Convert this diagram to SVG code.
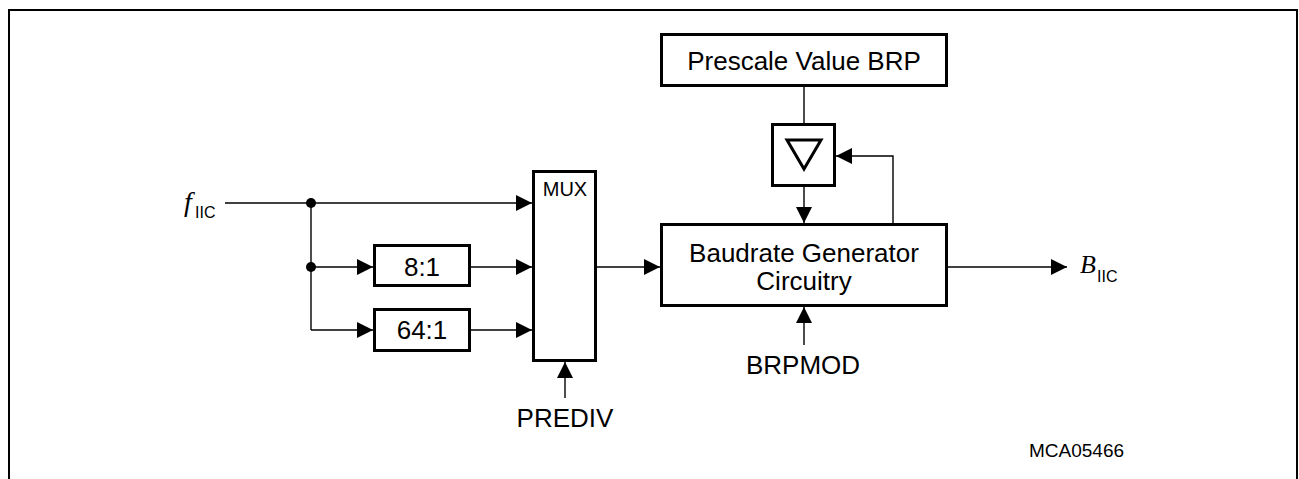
<svg xmlns="http://www.w3.org/2000/svg" width="1299" height="479" viewBox="0 0 1299 479">
<style>
.box{fill:#fff;stroke:#000;stroke-width:3}
.ln{fill:none;stroke:#000;stroke-width:1.4}
.t{font-family:"Liberation Sans",Arial,sans-serif;font-size:26px;fill:#000;text-anchor:middle}
.s{font-family:"Liberation Sans",Arial,sans-serif;fill:#000}
.it{font-family:"Liberation Serif","Times New Roman",serif;font-style:italic;fill:#000}
</style>
<defs>
<marker id="ah" viewBox="0 0 16 16" refX="16" refY="8" markerWidth="16" markerHeight="16" markerUnits="userSpaceOnUse" orient="auto">
<path d="M0,0 L16,8 L0,16 z" fill="#000"/>
</marker>
</defs>
<rect width="1299" height="479" fill="#fff"/>
<path d="M9,479 V10 H1297 V479" fill="none" stroke="#000" stroke-width="2"/>

<g id="connectors">
<path class="ln" d="M225,203 H532" marker-end="url(#ah)"/>
<path class="ln" d="M311,203 V330"/>
<path class="ln" d="M311,267 H373" marker-end="url(#ah)"/>
<path class="ln" d="M311,330 H373" marker-end="url(#ah)"/>
<path class="ln" d="M471,267 H532" marker-end="url(#ah)"/>
<path class="ln" d="M471,330 H532" marker-end="url(#ah)"/>
<circle cx="311" cy="203" r="5" fill="#000"/>
<circle cx="311" cy="267" r="5" fill="#000"/>
<path class="ln" d="M565,398 V362" marker-end="url(#ah)"/>
<path class="ln" d="M597,267 H660" marker-end="url(#ah)"/>
<path class="ln" d="M804,87 V123"/>
<path class="ln" d="M804,187 V223" marker-end="url(#ah)"/>
<path class="ln" d="M893,223 V156 H836" marker-end="url(#ah)"/>
<path class="ln" d="M804,345 V307" marker-end="url(#ah)"/>
<path class="ln" d="M948,267 H1067" marker-end="url(#ah)"/>
</g>

<g id="fiic">
<text class="it" x="184" y="211" font-size="28">f</text>
<text class="s" x="195" y="218" font-size="16">IIC</text>
</g>
<g id="div8">
<rect class="box" x="374.5" y="245.5" width="95" height="40"/>
<text class="t" x="422" y="276">8:1</text>
</g>
<g id="div64">
<rect class="box" x="374.5" y="309.5" width="95" height="41"/>
<text class="t" x="422" y="339">64:1</text>
</g>
<g id="mux">
<rect class="box" x="533.5" y="171.5" width="62" height="189"/>
<text class="s" x="565" y="196" font-size="20" text-anchor="middle">MUX</text>
</g>
<g id="prediv">
<text class="t" x="565" y="427">PREDIV</text>
</g>
<g id="prescale">
<rect class="box" x="661.5" y="34.5" width="285" height="51"/>
<text class="t" x="804" y="70">Prescale Value BRP</text>
</g>
<g id="delta">
<rect class="box" x="772.5" y="124.5" width="62" height="61"/>
<polygon points="787,140 821,140 804,169" fill="none" stroke="#000" stroke-width="3" stroke-linejoin="miter"/>
</g>
<g id="baudrate">
<rect class="box" x="661.5" y="224.5" width="285" height="81"/>
<text class="t" x="804" y="262">Baudrate Generator</text>
<text class="t" x="804" y="290">Circuitry</text>
</g>
<g id="brpmod">
<text class="t" x="803" y="374">BRPMOD</text>
</g>
<g id="biic">
<text class="it" x="1080" y="273" font-size="26">B</text>
<text class="s" x="1097" y="282" font-size="16">IIC</text>
</g>
<g id="label">
<text class="s" x="1029" y="457" font-size="19">MCA05466</text>
</g>
</svg>
